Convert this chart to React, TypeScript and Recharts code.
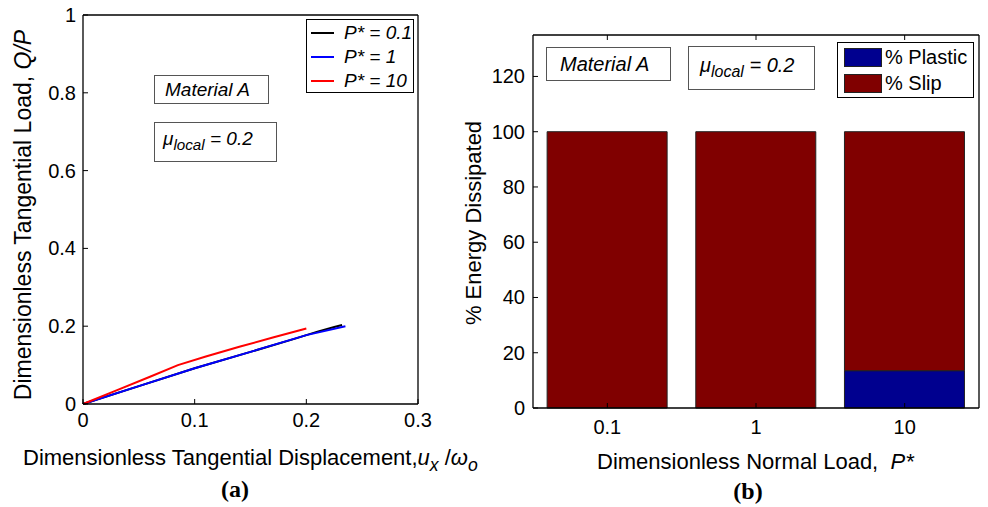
import { LineChart, Line, XAxis, YAxis, BarChart, Bar } from 'recharts';

const FONT = '"Liberation Sans", Arial, Helvetica, sans-serif';

// (a) tangential load Q/P against tangential displacement ux/wo
const dispP01 = [0, 0.05, 0.1, 0.15, 0.19, 0.21, 0.225, 0.232];
const loadP01 = [0, 0.046, 0.092, 0.134, 0.168, 0.186, 0.198, 0.203];
const dispP1 = [0, 0.05, 0.1, 0.15, 0.2, 0.235];
const loadP1 = [0, 0.046, 0.092, 0.134, 0.177, 0.2];
const dispP10 = [0, 0.03, 0.06, 0.085, 0.11, 0.14, 0.17, 0.2];
const loadP10 = [0, 0.035, 0.07, 0.1, 0.122, 0.147, 0.171, 0.194];
const dispTicks = [0, 0.1, 0.2, 0.3];
const loadTicks = [0, 0.2, 0.4, 0.6, 0.8, 1];

// (b) energy dissipated split by normal load
const normalLoads = ['0.1', '1', '10'];
const plasticPct = [0, 0, 13.5];
const slipPct = [100, 100, 86.5];
const energyTicks = [0, 20, 40, 60, 80, 100, 120];

const zip = (xs: number[], ys: number[]) => xs.map((x, i) => ({ x, y: ys[i] }));
const curveP01 = zip(dispP01, loadP01);
const curveP1 = zip(dispP1, loadP1);
const curveP10 = zip(dispP10, loadP10);

const energyData = normalLoads.map((load, i) => ({
  load,
  plastic: plasticPct[i],
  slip: slipPct[i],
}));

// matlab style ticks: short marks inside the box, labels outside
function tick(side: 'bottom' | 'left' | 'top' | 'right', gap = 0, len = 5) {
  return (p: any) => {
    const { x, y, payload } = p;
    const txt = { fontSize: 20, fontFamily: FONT, fill: '#000' };
    if (side === 'bottom')
      return (
        <g>
          <line x1={x} x2={x} y1={y} y2={y - len} stroke="#000" />
          <text x={x} y={y + gap} textAnchor="middle" dominantBaseline="central" {...txt}>
            {payload.value}
          </text>
        </g>
      );
    if (side === 'left')
      return (
        <g>
          <line x1={x} x2={x + len} y1={y} y2={y} stroke="#000" />
          <text x={x - gap} y={y} textAnchor="end" dominantBaseline="central" {...txt}>
            {payload.value}
          </text>
        </g>
      );
    if (side === 'top') return <line x1={x} x2={x} y1={y} y2={y + len} stroke="#000" />;
    return <line x1={x} x2={x - len} y1={y} y2={y} stroke="#000" />;
  };
}

const axisLine = { stroke: '#000', strokeWidth: 1.3 };

function Abs({ left, top, children, style }: any) {
  return (
    <div style={{ position: 'absolute', left, top, fontFamily: FONT, whiteSpace: 'nowrap', ...style }}>
      {children}
    </div>
  );
}

function Sub({ children, size = '0.8em' }: any) {
  return <span style={{ fontSize: size, position: 'relative', top: '0.35em' }}>{children}</span>;
}

function Box({ left, top, width, height, children, border = '1px solid #555', fontSize = 19 }: any) {
  return (
    <div
      style={{
        position: 'absolute',
        left,
        top,
        width,
        height,
        boxSizing: 'border-box',
        border,
        background: '#fff',
        fontFamily: FONT,
        fontSize,
        fontStyle: 'italic',
        display: 'flex',
        alignItems: 'center',
        whiteSpace: 'nowrap',
      }}
    >
      {children}
    </div>
  );
}

export default function App() {
  return (
    <div style={{ position: 'absolute', left: 0, top: 0, width: 988, height: 507, background: '#fff' }}>
      {/* (a) */}
      <div style={{ position: 'absolute', left: 0, top: 0 }}>
        <LineChart width={440} height={430} margin={{ top: 14, right: 21, bottom: 0, left: 0 }}>
          <XAxis
            xAxisId="b"
            type="number"
            dataKey="x"
            domain={[0, 0.3]}
            ticks={dispTicks}
            interval={0}
            height={26}
            tickSize={0}
            tickMargin={0}
            axisLine={axisLine}
            tick={tick('bottom', 16)}
          />
          <XAxis
            xAxisId="t"
            orientation="top"
            type="number"
            dataKey="x"
            domain={[0, 0.3]}
            ticks={dispTicks}
            interval={0}
            height={1}
            tickSize={0}
            tickMargin={0}
            axisLine={axisLine}
            tick={tick('top')}
          />
          <YAxis
            yAxisId="l"
            type="number"
            dataKey="y"
            domain={[0, 1]}
            ticks={loadTicks}
            interval={0}
            width={83}
            tickSize={0}
            tickMargin={0}
            axisLine={axisLine}
            tick={tick('left', 7)}
          />
          <YAxis
            yAxisId="r"
            orientation="right"
            type="number"
            dataKey="y"
            domain={[0, 1]}
            ticks={loadTicks}
            interval={0}
            width={1}
            tickSize={0}
            tickMargin={0}
            axisLine={axisLine}
            tick={tick('right')}
          />
          <Line xAxisId="b" yAxisId="l" data={curveP01} dataKey="y" stroke="#000" strokeWidth={2} dot={false} isAnimationActive={false} />
          <Line xAxisId="b" yAxisId="l" data={curveP1} dataKey="y" stroke="#0000ff" strokeWidth={2} dot={false} isAnimationActive={false} />
          <Line xAxisId="b" yAxisId="l" data={curveP10} dataKey="y" stroke="#ff0000" strokeWidth={2} dot={false} isAnimationActive={false} />
        </LineChart>
      </div>

      <Box left={154} top={75} width={115} height={29}>
        <span style={{ marginLeft: 10 }}>Material A</span>
      </Box>
      <Box left={154} top={122} width={123} height={40}>
        <span style={{ marginLeft: 8, marginTop: -6 }}>
          μ<Sub>local</Sub> = 0.2
        </span>
      </Box>

      <div
        style={{
          position: 'absolute',
          left: 306,
          top: 19,
          width: 108,
          height: 74,
          boxSizing: 'border-box',
          border: '1.5px solid #000',
          background: '#fff',
          fontFamily: FONT,
          fontSize: 19,
          fontStyle: 'italic',
        }}
      >
        {[
          ['#000', 'P* = 0.1'],
          ['#0000ff', 'P* = 1'],
          ['#ff0000', 'P* = 10'],
        ].map(([c, t], i) => (
          <div key={t} style={{ position: 'absolute', left: 4, top: 1 + i * 24, height: 24, display: 'flex', alignItems: 'center' }}>
            <span style={{ display: 'inline-block', width: 23, height: 2, background: c, marginRight: 10 }} />
            {t}
          </div>
        ))}
      </div>

      <Abs left={23} top={215} style={{ fontSize: 23, transform: 'translate(-50%, -50%) rotate(-90deg)' }}>
        Dimensionless Tangential Load, <i>Q/P</i>
      </Abs>
      <Abs left={23} top={458} style={{ fontSize: 22, transform: 'translateY(-50%)' }}>
        Dimensionless Tangential Displacement,<i>u<Sub>x</Sub></i> /<i>ω<Sub>o</Sub></i>
      </Abs>
      <Abs left={235} top={489} style={{ fontSize: 24, fontWeight: 'bold', fontFamily: '"Liberation Serif", "Times New Roman", serif', transform: 'translate(-50%, -50%)' }}>
        (a)
      </Abs>

      {/* (b) */}
      <div style={{ position: 'absolute', left: 440, top: 0 }}>
        <BarChart
          width={548}
          height={440}
          data={energyData}
          margin={{ top: 34, right: 8, bottom: 0, left: 0 }}
          barCategoryGap="9.5%"
        >
          <XAxis
            xAxisId="b"
            dataKey="load"
            interval={0}
            height={32}
            tickSize={0}
            tickMargin={0}
            axisLine={axisLine}
            tick={tick('bottom', 19)}
          />
          <XAxis
            xAxisId="t"
            orientation="top"
            dataKey="load"
            interval={0}
            height={1}
            tickSize={0}
            tickMargin={0}
            axisLine={axisLine}
            tick={tick('top')}
          />
          <YAxis
            yAxisId="l"
            type="number"
            domain={[0, 135]}
            ticks={energyTicks}
            interval={0}
            width={93}
            tickSize={0}
            tickMargin={0}
            axisLine={axisLine}
            tick={tick('left', 8)}
          />
          <YAxis
            yAxisId="r"
            orientation="right"
            type="number"
            domain={[0, 135]}
            ticks={energyTicks}
            interval={0}
            width={1}
            tickSize={0}
            tickMargin={0}
            axisLine={axisLine}
            tick={tick('right')}
          />
          <Bar xAxisId="b" yAxisId="l" dataKey="plastic" stackId="e" fill="#00008f" stroke="#222" strokeWidth={1} isAnimationActive={false} />
          <Bar xAxisId="b" yAxisId="l" dataKey="slip" stackId="e" fill="#800000" stroke="#222" strokeWidth={1} isAnimationActive={false} />
        </BarChart>
      </div>

      <Box left={546} top={47} width={125} height={34} fontSize={20}>
        <span style={{ marginLeft: 13 }}>Material A</span>
      </Box>
      <Box left={688} top={46} width={127} height={44} fontSize={20}>
        <span style={{ marginLeft: 11, marginTop: -6 }}>
          μ<Sub>local</Sub> = 0.2
        </span>
      </Box>

      <div
        style={{
          position: 'absolute',
          left: 837,
          top: 42,
          width: 137,
          height: 56,
          boxSizing: 'border-box',
          border: '1.5px solid #000',
          background: '#fff',
          fontFamily: FONT,
          fontSize: 20,
        }}
      >
        {[
          ['#00008f', '% Plastic'],
          ['#800000', '% Slip'],
        ].map(([c, t], i) => (
          <div key={t} style={{ position: 'absolute', left: 6, top: 4 + i * 26, height: 20, display: 'flex', alignItems: 'center' }}>
            <span
              style={{
                display: 'inline-block',
                width: 38,
                height: 19,
                boxSizing: 'border-box',
                background: c,
                border: '1px solid #222',
                marginRight: 3,
              }}
            />
            {t}
          </div>
        ))}
      </div>

      <Abs left={474} top={223} style={{ fontSize: 22, transform: 'translate(-50%, -50%) rotate(-90deg)' }}>
        % Energy Dissipated
      </Abs>
      <Abs left={597} top={462} style={{ fontSize: 22, transform: 'translateY(-50%)' }}>
        Dimensionless Normal Load,&nbsp; <i>P*</i>
      </Abs>
      <Abs left={748} top={491} style={{ fontSize: 24, fontWeight: 'bold', fontFamily: '"Liberation Serif", "Times New Roman", serif', transform: 'translate(-50%, -50%)' }}>
        (b)
      </Abs>
    </div>
  );
}
